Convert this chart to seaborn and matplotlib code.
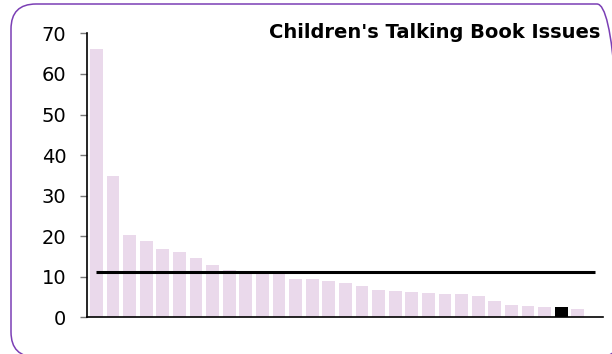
import numpy as np
import pandas as pd
import seaborn as sns
import matplotlib.pyplot as plt
from matplotlib.patches import FancyBboxPatch

# issues per library, sorted, one highlighted
libraries = [f"L{i}" for i in range(1, 31)]
issues = [66.2, 34.9, 20.3, 18.9, 16.9, 16.0, 14.7, 12.8, 11.7, 10.9,
          10.6, 10.6, 9.5, 9.4, 9.0, 8.5, 7.7, 6.7, 6.6, 6.3,
          6.1, 5.8, 5.8, 5.2, 3.9, 3.0, 2.9, 2.6, 2.6, 2.1]
highlight = "L29"
average = 11.1
yticks = [0, 10, 20, 30, 40, 50, 60, 70]

df = pd.DataFrame({'library': libraries, 'issues': issues})

sns.set_style('white')
plt.rcParams['font.family'] = ['DejaVu Sans']

fig = plt.figure(figsize=(6.12, 3.54), dpi=100)
ax = fig.add_axes([0.1427, 0.1037, 0.8421, 0.8019])

colors = ['#000000' if lib == highlight else '#ead9eb' for lib in libraries]
sns.barplot(data=df, x='library', y='issues', hue='library', palette=colors,
            legend=False, width=0.77, saturation=1, linewidth=0, ax=ax)

# average line
ax.hlines(average, 0, 30.05, color='black', lw=2.2, zorder=5)

ax.set_xlim(-0.54, 30.5)
ax.set_ylim(0, 70)
ax.set_yticks(yticks)
ax.set_xticks([])
ax.set_xlabel('')
ax.set_ylabel('')
ax.tick_params(axis='y', left=True, length=5, width=1, color='#777777',
               pad=10, labelsize=14, labelcolor='black')
for s in ['top', 'right']:
    ax.spines[s].set_visible(False)
for s in ['left', 'bottom']:
    ax.spines[s].set_color('black')
    ax.spines[s].set_linewidth(1.2)

fig.text(600 / 612, 1 - 32 / 354, "Children's Talking Book Issues",
         ha='right', va='center', fontsize=14, fontweight='bold', color='black')

# rounded purple frame
frame = FancyBboxPatch((0.11, -0.03), 6.11, 3.53,
                       boxstyle='round,pad=0,rounding_size=0.25',
                       transform=fig.dpi_scale_trans, fill=False,
                       edgecolor='#7b3fb5', lw=1.1, clip_on=False)
fig.patches.append(frame)

fig.savefig('out.png', dpi=100)
